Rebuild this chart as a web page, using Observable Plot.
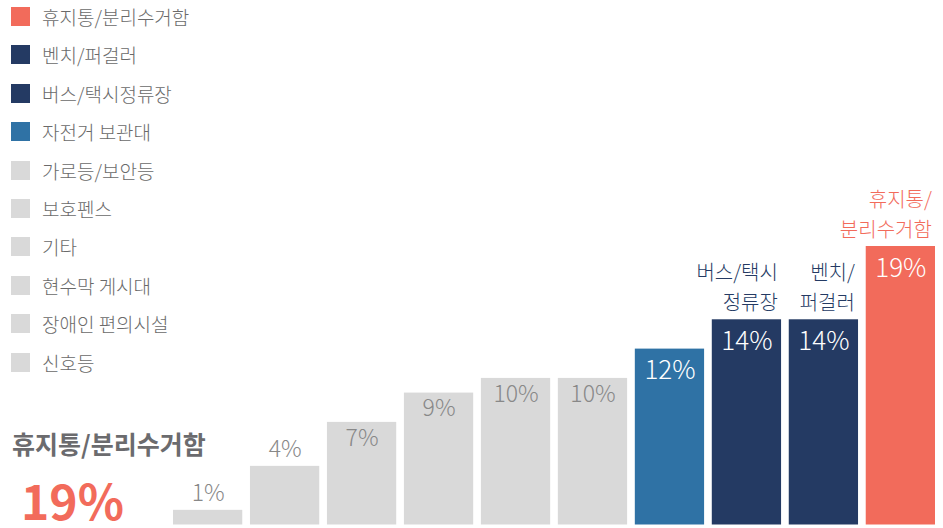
<!DOCTYPE html>
<html>
<head>
<meta charset="utf-8">
<script src="https://cdn.jsdelivr.net/npm/d3@7"></script>
<script src="https://cdn.jsdelivr.net/npm/@observablehq/plot@0.6"></script>
<style>
  html, body { margin: 0; padding: 0; background: #fff; }
  body { font-family: "Noto Sans CJK KR", "Noto Sans", sans-serif; }
  #wrap { position: relative; width: 943px; height: 528px; overflow: hidden; }
  #chart { position: absolute; left: 0; top: 0; }
  #legend { position: absolute; left: 11px; top: -2.7px; }
  .item { display: flex; align-items: center; height: 38.4px; font-family: "Noto Sans CJK KR Light", "Noto Sans CJK KR DemiLight", "Noto Sans CJK KR", sans-serif; font-size: 19px; font-weight: 300; color: #6a6a6a; white-space: nowrap; }
  .sw { width: 19px; height: 19px; margin-right: 12px; flex: none; }
  #headline { position: absolute; left: 12px; top: 426px; font-size: 25px; font-weight: 700; color: #6b6b6e; line-height: 34px; white-space: nowrap; }
  #headvalue { position: absolute; left: 21px; top: 477px; font-size: 48px; font-weight: 700; color: #f26b5b; line-height: 44px; height: 44px; white-space: nowrap; }
</style>
</head>
<body>
<div id="wrap">
  <div id="chart"></div>
  <div id="legend"></div>
  <div id="headline"></div>
  <div id="headvalue"></div>
</div>
<script>
// ---- data ----
const categories = ["신호등", "장애인 편의시설", "현수막 게시대", "기타", "보호펜스", "가로등/보안등", "자전거 보관대", "버스/택시정류장", "벤치/퍼걸러", "휴지통/분리수거함"];
const values = [1, 4, 7, 9, 10, 10, 12, 14, 14, 19];
const valueLabels = ["1%", "4%", "7%", "9%", "10%", "10%", "12%", "14%", "14%", "19%"];
const callouts = ["", "", "", "", "", "", "", "버스/택시\n정류장", "벤치/\n퍼걸러", "휴지통/\n분리수거함"];
const legendItems = ["휴지통/분리수거함", "벤치/퍼걸러", "버스/택시정류장", "자전거 보관대", "가로등/보안등", "보호펜스", "기타", "현수막 게시대", "장애인 편의시설", "신호등"];
const headlineText = "휴지통/분리수거함";
const headlineValue = "19%";

// ---- styling ----
const highlight = {
  "휴지통/분리수거함": "#f26b5b",
  "벤치/퍼걸러": "#243a63",
  "버스/택시정류장": "#243a63",
  "자전거 보관대": "#2f72a5"
};
const baseGray = "#d9d9d9";
const colorFor = c => highlight[c] || baseGray;
const lightFont = '"Noto Sans CJK KR Light", "Noto Sans CJK KR DemiLight", "Noto Sans CJK KR", sans-serif';

const data = categories.map((c, i) => ({category: c, value: values[i], label: valueLabels[i], callout: callouts[i]}));
const outside = data.filter(d => d.value < 5);
const grayInside = data.filter(d => d.value >= 5 && !highlight[d.category]);
const colorInside = data.filter(d => highlight[d.category]);
const withCallout = data.filter(d => d.callout);

const chart = Plot.plot({
  width: 943,
  height: 528,
  marginLeft: 173,
  marginRight: 8,
  marginTop: 0,
  marginBottom: 4,
  x: {domain: categories, paddingInner: 0.1, paddingOuter: 0, round: false, axis: null},
  y: {domain: [0, 19], range: [524.5, 246], axis: null},
  color: {domain: categories, range: categories.map(colorFor)},
  style: {fontFamily: lightFont, background: "transparent", overflow: "visible"},
  marks: [
    Plot.barY(data, {x: "category", y: "value", fill: "category"}),
    Plot.text(outside, {x: "category", y: "value", text: "label", dy: -17, fill: "#888", fontSize: 23, fontWeight: 300}),
    Plot.text(grayInside, {x: "category", y: "value", text: "label", dy: 16, fill: "#888", fontSize: 23, fontWeight: 300}),
    Plot.text(colorInside, {x: "category", y: "value", text: "label", dy: 22, fill: "#fff", fontSize: 26, fontWeight: 300}),
    Plot.text(withCallout, {x: "category", y: "value", text: "callout", fill: "category", textAnchor: "end", dx: 31, dy: -34, lineHeight: 1.5, fontSize: 20, fontWeight: 300})
  ]
});
document.getElementById("chart").appendChild(chart);

const legend = d3.select("#legend");
legendItems.forEach(c => {
  const item = legend.append("div").attr("class", "item");
  item.append("div").attr("class", "sw").style("background", colorFor(c));
  item.append("span").text(c);
});
document.getElementById("headline").textContent = headlineText;
document.getElementById("headvalue").textContent = headlineValue;
</script>
</body>
</html>
